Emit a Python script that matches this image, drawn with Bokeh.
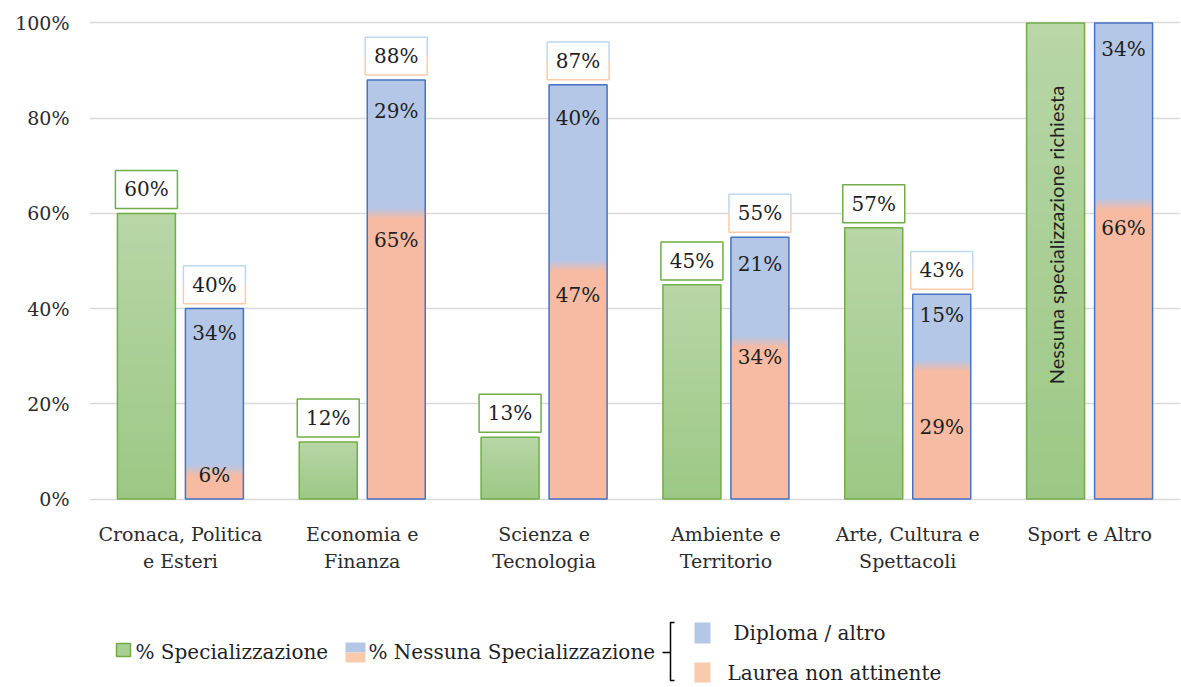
import numpy as np
from bokeh.plotting import figure
from bokeh.models import Range1d, FixedTicker, PrintfTickFormatter, CustomJSTickFormatter
from bokeh.layouts import column
from bokeh.embed import file_html
from bokeh.resources import INLINE
from bokeh.core.properties import value

# ---------------- data ----------------
categories = ["Cronaca, Politica\ne Esteri", "Economia e\nFinanza", "Scienza e\nTecnologia",
              "Ambiente e\nTerritorio", "Arte, Cultura e\nSpettacoli", "Sport e Altro"]
specializzazione = [60, 12, 13, 45, 57, 100]          # green bar heights
laurea_non_attinente = [6, 60, 49, 33, 28, 62]        # orange segment heights (as drawn)
totale_nessuna = [40, 88, 87, 55, 43, 100]            # total stacked heights
spec_labels = ["60%", "12%", "13%", "45%", "57%", ""]
tot_labels = ["40%", "88%", "87%", "55%", "43%", ""]
diploma_labels = ["34%", "29%", "40%", "21%", "15%", "34%"]
laurea_labels = ["6%", "65%", "47%", "34%", "29%", "66%"]
y_ticks = [0, 20, 40, 60, 80, 100]
sport_note = "Nessuna specializzazione  richiesta"

# ---------------- layout / style ----------------
W, H = 1180, 575
BL, BR, BT, BB = 89, 0, 20, 72
LEG_H = 111
Y0, Y1 = -0.5, 100.5
ppx = (W - BL - BR) / len(categories)      # px per x unit
ppy = (H - BT - BB) / (Y1 - Y0)            # px per y unit
bar_w = 58 / ppx
off = 34 / ppx
blue_dy = [24, 31, 33, 27, 21, 26]     # px below segment top (label placement)
orange_dy = [4, 27, 29, 15, 61, 24]

SERIF = value("DejaVu Serif")
TXT = "#1f1f1f"
G_TOP, G_BOT = (184, 214, 167), (156, 200, 132)
BLUE, ORANGE = (180, 199, 231), (247, 186, 162)
G_LINE, B_LINE = "#70ad47", "#4472c4"
B_LIGHT, O_LIGHT = "#bdd7ee", "#f8cbad"


def hexc(c):
    return "#%02x%02x%02x" % tuple(int(round(v)) for v in c)


def mix(a, b, f):
    return tuple(a[i] + (b[i] - a[i]) * f for i in range(3))


p = figure(width=W, height=H, x_range=Range1d(0, len(categories)), y_range=Range1d(Y0, Y1),
           output_backend="svg", toolbar_location=None,
           min_border_left=BL, min_border_right=BR, min_border_top=BT, min_border_bottom=BB)
p.outline_line_color = None
p.xgrid.visible = False
p.ygrid.ticker = FixedTicker(ticks=y_ticks)
p.ygrid.grid_line_color = "#d9d9d9"
p.ygrid.grid_line_width = 1.5

p.yaxis.ticker = FixedTicker(ticks=y_ticks)
p.yaxis.formatter = PrintfTickFormatter(format="%d%%")
p.xaxis.ticker = FixedTicker(ticks=[i + 0.5 for i in range(len(categories))])
p.xaxis.formatter = CustomJSTickFormatter(args=dict(labels=categories),
                                          code="return labels[Math.floor(tick)];")
for ax in (p.xaxis[0], p.yaxis[0]):
    ax.axis_line_color = None
    ax.major_tick_line_color = None
    ax.minor_tick_line_color = None
    ax.major_tick_out = 0
    ax.major_label_text_font = "DejaVu Serif"
    ax.major_label_text_font_size = "19px"
    ax.major_label_text_color = "#2b2b2b"
p.yaxis.major_label_standoff = 20
p.xaxis.major_label_standoff = 21
p.xaxis.major_label_text_line_height = 1.25

# ---- green bars (gradient by slices) ----
N = 30
L, R, B, T, C = [], [], [], [], []
for i, v in enumerate(specializzazione):
    xc = i + 0.5 - off
    for k in range(N):
        L.append(xc - bar_w / 2); R.append(xc + bar_w / 2)
        B.append(v * k / N); T.append(min(v, v * (k + 1.4) / N))
        C.append(hexc(mix(G_BOT, G_TOP, (k + 0.5) / N)))
p.quad(left=L, right=R, bottom=B, top=T, fill_color=C, line_color=None)
gx = [i + 0.5 - off for i in range(len(categories))]
p.quad(left=[x - bar_w / 2 for x in gx], right=[x + bar_w / 2 for x in gx],
       bottom=0, top=specializzazione, fill_color=None, line_color=G_LINE, line_width=1.5)

# ---- stacked bars ----
bx = [i + 0.5 + off for i in range(len(categories))]
p.quad(left=[x - bar_w / 2 for x in bx], right=[x + bar_w / 2 for x in bx],
       bottom=0, top=laurea_non_attinente, fill_color=hexc(ORANGE), line_color=None)
p.quad(left=[x - bar_w / 2 for x in bx], right=[x + bar_w / 2 for x in bx],
       bottom=laurea_non_attinente, top=totale_nessuna, fill_color=hexc(BLUE), line_color=None)
# soft transition between segments
L, R, B, T, C = [], [], [], [], []
M = 8
band = 1.2
for i, o in enumerate(laurea_non_attinente):
    for k in range(M):
        L.append(bx[i] - bar_w / 2); R.append(bx[i] + bar_w / 2)
        b = o - band + 2 * band * k / M
        B.append(b); T.append(b + 2 * band / M * 1.3)
        C.append(hexc(mix(ORANGE, BLUE, (k + 0.5) / M)))
p.quad(left=L, right=R, bottom=B, top=T, fill_color=C, line_color=None)
p.quad(left=[x - bar_w / 2 for x in bx], right=[x + bar_w / 2 for x in bx],
       bottom=0, top=totale_nessuna, fill_color=None, line_color=B_LINE, line_width=1.5)

# ---- labels inside stacked bars ----
p.text(x=bx, y=[t - blue_dy[i] / ppy for i, t in enumerate(totale_nessuna)], text=diploma_labels,
       text_align="center", text_baseline="middle", text_font=SERIF, text_font_size="20px",
       text_color=TXT)
p.text(x=bx, y=[o - orange_dy[i] / ppy for i, o in enumerate(laurea_non_attinente)], text=laurea_labels,
       text_align="center", text_baseline="middle", text_font=SERIF, text_font_size="20px",
       text_color=TXT)

# ---- boxed totals ----
box_w, box_h, gap = 62, 38, 5
gi = [i for i, s in enumerate(spec_labels) if s]
gyc = [specializzazione[i] + (gap + box_h / 2) / ppy for i in gi]
p.rect(x=[gx[i] for i in gi], y=gyc, width=box_w, height=box_h, width_units="screen",
       height_units="screen", fill_color="white", line_color=G_LINE, line_width=1.5)
p.text(x=[gx[i] for i in gi], y=gyc, text=[spec_labels[i] for i in gi], text_align="center",
       text_baseline="middle", text_font=SERIF, text_font_size="20px", text_color=TXT)

ti = [i for i, s in enumerate(tot_labels) if s]
tyc = [totale_nessuna[i] + (gap + box_h / 2) / ppy for i in ti]
p.rect(x=[bx[i] for i in ti], y=tyc, width=box_w, height=box_h, width_units="screen",
       height_units="screen", fill_color="white", line_color=None)
hw, hh = box_w / 2 / ppx, box_h / 2 / ppy
top_xs, top_ys, bot_xs, bot_ys = [], [], [], []
for i, yc in zip(ti, tyc):
    xl, xr = bx[i] - hw, bx[i] + hw
    top_xs.append([xl, xl, xr, xr]); top_ys.append([yc, yc + hh, yc + hh, yc])
    bot_xs.append([xl, xl, xr, xr]); bot_ys.append([yc, yc - hh, yc - hh, yc])
p.multi_line(xs=top_xs, ys=top_ys, line_color=B_LIGHT, line_width=1.5)
p.multi_line(xs=bot_xs, ys=bot_ys, line_color=O_LIGHT, line_width=1.5)
p.text(x=[bx[i] for i in ti], y=tyc, text=[tot_labels[i] for i in ti], text_align="center",
       text_baseline="middle", text_font=SERIF, text_font_size="20px", text_color=TXT)

# ---- vertical note on the Sport green bar ----
p.text(x=[gx[5]], y=[56], text=[sport_note], angle=np.pi / 2, text_align="center",
       text_baseline="middle", text_font=value("Lato"), text_font_size="20px", text_color=TXT)

# ---------------- legend figure (coordinates = page pixels) ----------------
p2 = figure(width=W, height=LEG_H, x_range=Range1d(BL, W - BR), y_range=Range1d(H + LEG_H, H),
            output_backend="svg", toolbar_location=None,
            min_border_left=BL, min_border_right=BR, min_border_top=0, min_border_bottom=0,
            x_axis_location=None, y_axis_location=None)
p2.outline_line_color = None
p2.grid.visible = False

p2.quad(left=[116], right=[130], top=[643], bottom=[656], fill_color="#aacf93",
        line_color=G_LINE, line_width=1.5)
p2.text(x=[135], y=[651], text=["% Specializzazione"], text_align="left", text_baseline="middle",
        text_font=SERIF, text_font_size="20px", text_color=TXT)
p2.quad(left=[345], right=[365], top=[642], bottom=[652], fill_color=hexc(BLUE), line_color=None)
p2.quad(left=[345], right=[365], top=[652], bottom=[662], fill_color=O_LIGHT, line_color=None)
p2.text(x=[368], y=[651], text=["% Nessuna Specializzazione"], text_align="left",
        text_baseline="middle", text_font=SERIF, text_font_size="20px", text_color=TXT)
p2.multi_line(xs=[[674, 670, 670, 674], [662, 670]], ys=[[622, 622, 680, 680], [652, 652]],
              line_color="black", line_width=1.5)
p2.quad(left=[694], right=[710], top=[622], bottom=[643], fill_color=hexc(BLUE), line_color=None)
p2.text(x=[733], y=[632], text=["Diploma / altro"], text_align="left", text_baseline="middle",
        text_font=SERIF, text_font_size="20px", text_color=TXT)
p2.quad(left=[694], right=[710], top=[662], bottom=[682], fill_color=O_LIGHT, line_color=None)
p2.text(x=[727], y=[672], text=["Laurea non attinente"], text_align="left", text_baseline="middle",
        text_font=SERIF, text_font_size="20px", text_color=TXT)

layout = column(p, p2)
open("out.html", "w").write(file_html(layout, INLINE))
